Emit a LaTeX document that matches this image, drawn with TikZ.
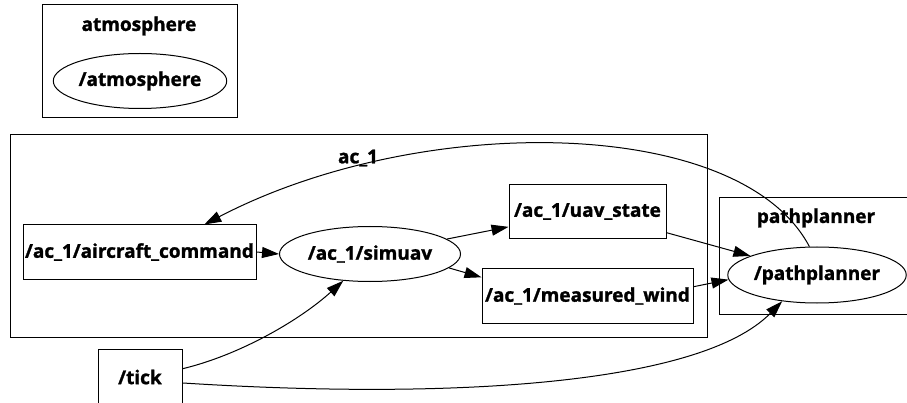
\documentclass[tikz,border=0pt]{standalone}
\usepackage{fontspec}
\setmainfont{Open Sans}[BoldFont={* Bold},BoldFeatures={FakeBold=1.4}]
\usetikzlibrary{shapes.geometric,arrows.meta}

\begin{document}
\begin{tikzpicture}[x=1pt,y=-1pt,line width=1pt,
  every node/.style={font=\fontsize{19}{22}\selectfont\bfseries,inner sep=0pt},
  topic/.style={draw,rectangle,minimum height=54pt},
  nodebox/.style={draw,ellipse,minimum height=55pt},
  edge/.style={-{Triangle[length=17pt,width=11pt]}}]
	%%%%% START %%%%%
	\clip (0,0) rectangle (907,403);

	% clusters
	\draw (42,5) rectangle (237,118);
	\node (atmlbl) at (139,26) {atmosphere};
	\draw (10,135) rectangle (707,337);
	\node (aclbl) at (358,158) {ac\_1};
	\draw (719,198) rectangle (916,314);
	\node (pplbl) at (816,218) {pathplanner};

	% nodes and topics
	\node[nodebox,minimum width=170pt] (atm) at (140,81) {/atmosphere};
	\node[topic,minimum width=233pt] (acmd) at (139.5,252) {/ac\_1/aircraft\_command};
	\node[nodebox,minimum width=181pt] (sim) at (370,254) {/ac\_1/simuav};
	\node[topic,minimum width=157pt] (uav) at (587.5,211.5) {/ac\_1/uav\_state};
	\node[topic,minimum width=211pt] (wind) at (587.5,296) {/ac\_1/measured\_wind};
	\node[nodebox,minimum width=169pt,minimum height=56pt] (pp) at (817,275) {/pathplanner};
	\node[topic,minimum width=84pt,minimum height=56pt] (tick) at (140,377) {/tick};

	% edges
	\draw[edge] (acmd.east) -- (sim.west);
	\draw[edge] (sim.11) -- (uav.-169);
	\draw[edge] (sim.-10) -- (wind.170);
	\draw[edge] (uav.-15) -- (pp.164);
	\draw[edge] (wind.5) -- (pp.183);
	\draw[edge] (pp.105) .. controls (740,115) and (420,112) .. (acmd.23);
	\draw[edge] (tick.11) .. controls (240,355) and (300,320) .. (sim.-135);
	\draw[edge] (tick.-8) .. controls (450,400) and (700,385) .. (pp.-143);
	%%%%% END %%%%%
\end{tikzpicture}
\end{document}
